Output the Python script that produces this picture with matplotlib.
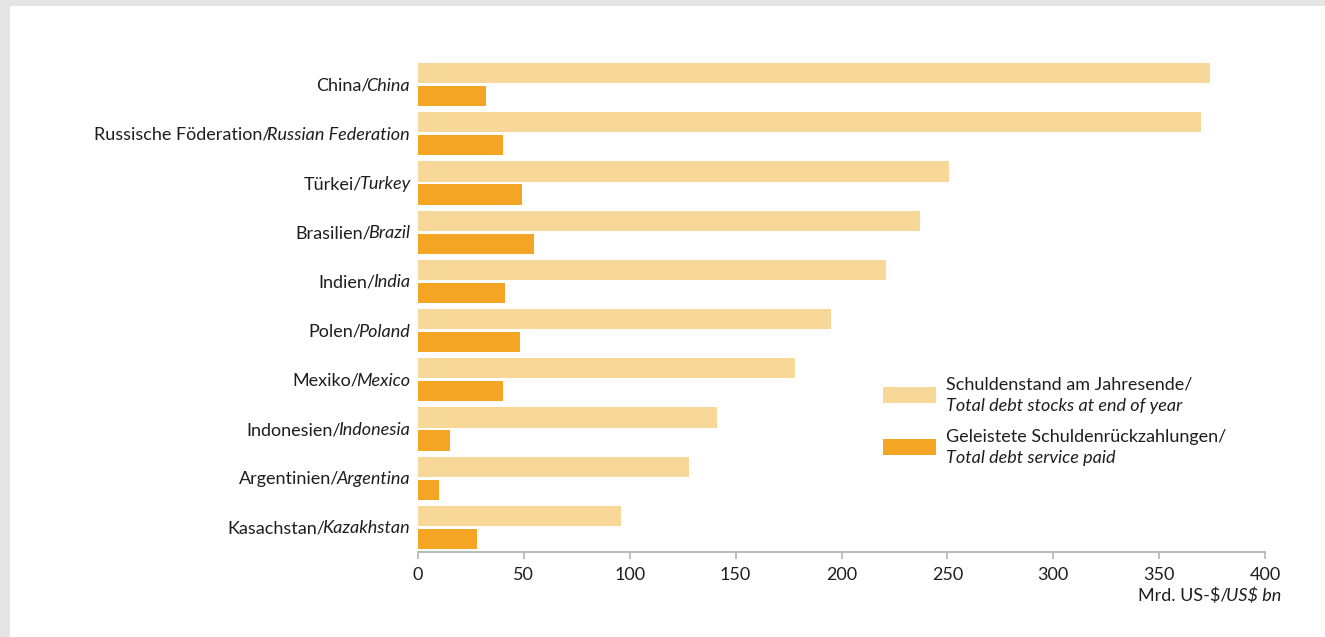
import matplotlib
matplotlib.use("Agg")
import matplotlib.pyplot as plt
import matplotlib.transforms as mtransforms
from matplotlib.patches import Rectangle

W, H = 1325, 637
DPI = 100

countries_de = ["China", "Russische Föderation", "Türkei", "Brasilien", "Indien",
                "Polen", "Mexiko", "Indonesien", "Argentinien", "Kasachstan"]
countries_en = ["China", "Russian Federation", "Turkey", "Brazil", "India",
                "Poland", "Mexico", "Indonesia", "Argentina", "Kazakhstan"]
debt_stocks = [374, 370, 251, 237, 221, 195, 178, 141, 128, 96]
debt_service = [32, 40, 49, 55, 41, 48, 40, 15, 10, 28]
x_ticks = [0, 50, 100, 150, 200, 250, 300, 350, 400]
legend_de = ["Schuldenstand am Jahresende/", "Geleistete Schuldenrückzahlungen/"]
legend_en = ["Total debt stocks at end of year", "Total debt service paid"]
xlabel_de = "Mrd. US-$/"
xlabel_en = "US$ bn"

LIGHT = "#F8D898"
DARK = "#F5A524"
TXT = "#1e1e1e"
GRID = "#b4b4b4"
FONT = "Lato"
FS = 13

plt.rcParams["font.family"] = [FONT, "DejaVu Sans"]

fig = plt.figure(figsize=(W / DPI, H / DPI), dpi=DPI, facecolor="#e5e5e5")
fig.patches.append(Rectangle((10 / W, 0), 1 - 10 / W, 1 - 6 / H, transform=fig.transFigure,
                             facecolor="white", edgecolor="none", zorder=-5))


def fx(x):
    return x / W


def fy(y):
    return 1 - y / H


left, right = fx(418), fx(1265)
bottom, top = fy(552), fy(60)
ax = fig.add_axes([left, bottom, right - left, top - bottom])
ax.set_facecolor("none")
ax.set_zorder(2)

n = len(countries_de)
pos = list(range(n))
bh = 0.41
off = 0.235
ax.barh([p - off for p in pos], debt_stocks, height=bh, color=LIGHT, zorder=2)
ax.barh([p + off for p in pos], debt_service, height=bh, color=DARK, zorder=2)

ax.set_ylim(n - 0.5, -0.5)
ax.set_xlim(0, 400)
ax.set_xticks(x_ticks)
ax.set_xticklabels([str(t) for t in x_ticks], fontsize=FS, color=TXT)
ax.tick_params(axis="x", direction="out", length=5, width=1.2, color=GRID, pad=6)
ax.set_yticks([])
for s in ["top", "right", "left"]:
    ax.spines[s].set_visible(False)
ax.spines["bottom"].set_color(GRID)
ax.spines["bottom"].set_linewidth(1.3)

fig.canvas.draw()
renderer = fig.canvas.get_renderer()

SLASH_TIGHT = 3

# y labels: German regular + English italic
base_tr = ax.get_yaxis_transform()
for i in range(n):
    tr_it = mtransforms.offset_copy(base_tr, fig=fig, x=-8, y=-6, units="dots")
    t_it = ax.text(0, i, countries_en[i], transform=tr_it, ha="right", va="baseline",
                   fontsize=FS, style="italic", color=TXT, parse_math=False, clip_on=False)
    w = t_it.get_window_extent(renderer).width
    tr_de = mtransforms.offset_copy(base_tr, fig=fig, x=-8 - w + SLASH_TIGHT, y=-6, units="dots")
    ax.text(0, i, countries_de[i] + "/", transform=tr_de, ha="right", va="baseline",
            fontsize=FS, color=TXT, parse_math=False, clip_on=False)

# x label: German regular + English italic, right-aligned
t_xe = fig.text(fx(1281), fy(601), xlabel_en, ha="right", va="baseline", fontsize=FS,
                style="italic", color=TXT, parse_math=False)
w = t_xe.get_window_extent(renderer).width
fig.text(fx(1281 - w + SLASH_TIGHT), fy(601), xlabel_de, ha="right", va="baseline", fontsize=FS,
         color=TXT, parse_math=False)

# legend
legend_colors = [LIGHT, DARK]
patch_tops = [387, 439]
for k in range(2):
    y0 = patch_tops[k]
    fig.patches.append(Rectangle((fx(883), fy(y0 + 16)), fx(936) - fx(883), 16 / H,
                                 transform=fig.transFigure, facecolor=legend_colors[k],
                                 edgecolor="none", zorder=3))
    fig.text(fx(946), fy(y0 + 3), legend_de[k], ha="left", va="baseline", fontsize=FS,
             color=TXT, parse_math=False)
    fig.text(fx(946), fy(y0 + 24), legend_en[k], ha="left", va="baseline", fontsize=FS,
             style="italic", color=TXT, parse_math=False)

fig.savefig("out.png", dpi=DPI, facecolor=fig.get_facecolor())
